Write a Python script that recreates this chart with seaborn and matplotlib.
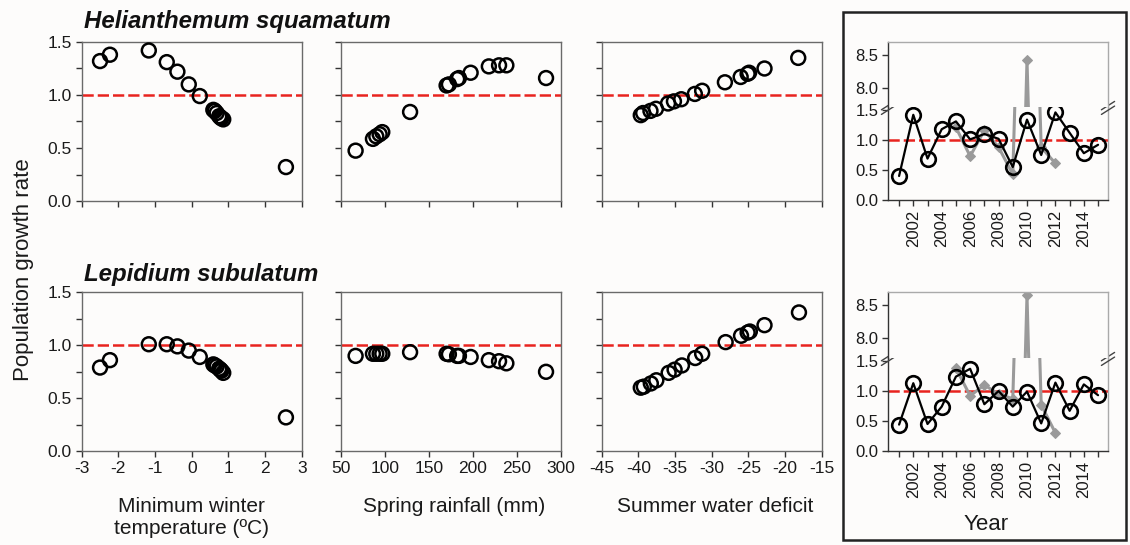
import numpy as np
import pandas as pd
import matplotlib
matplotlib.use("Agg")
import matplotlib.pyplot as plt
import seaborn as sns
from matplotlib.patches import Rectangle

sns.set_style("ticks")
plt.rcParams['font.family'] = ['Liberation Sans', 'DejaVu Sans']

# --- data ---
temp_x = [-2.50, -2.23, -1.17, -0.68, -0.39, -0.08, 0.22, 0.59, 0.63, 0.68, 0.75, 0.78, 0.81, 0.86, 2.57]
temp_hs = [1.32, 1.38, 1.42, 1.31, 1.22, 1.10, 0.99, 0.86, 0.85, 0.83, 0.80, 0.79, 0.78, 0.77, 0.32]
temp_ls = [0.79, 0.86, 1.01, 1.01, 0.99, 0.95, 0.89, 0.82, 0.81, 0.80, 0.78, 0.77, 0.76, 0.74, 0.32]

rain_x = [66.6, 86.3, 90.1, 93.9, 96.9, 128.5, 170.0, 172.6, 182.0, 184.0, 197.3, 218.0, 229.6, 237.9, 283.0]
rain_hs = [0.475, 0.586, 0.61, 0.63, 0.65, 0.84, 1.09, 1.10, 1.15, 1.16, 1.21, 1.27, 1.28, 1.28, 1.16]
rain_ls = [0.90, 0.92, 0.92, 0.92, 0.92, 0.935, 0.92, 0.915, 0.90, 0.90, 0.89, 0.86, 0.85, 0.83, 0.75]

def_x_hs = [-39.67, -39.35, -38.35, -37.6, -35.96, -35.15, -34.15, -32.3, -31.3, -28.2, -26.05, -25.1, -24.9, -22.8, -18.2]
def_hs = [0.81, 0.83, 0.85, 0.87, 0.92, 0.94, 0.96, 1.01, 1.04, 1.12, 1.17, 1.20, 1.21, 1.25, 1.35]
def_x_ls = [-39.67, -39.26, -38.3, -37.55, -35.87, -35.06, -34.06, -32.25, -31.3, -28.1, -26.0, -25.1, -24.8, -22.8, -18.1]
def_ls = [0.60, 0.61, 0.64, 0.67, 0.74, 0.77, 0.81, 0.88, 0.92, 1.03, 1.09, 1.12, 1.13, 1.19, 1.31]

years = list(range(2001, 2016))
obs_hs = [0.40, 1.42, 0.69, 1.18, 1.31, 1.01, 1.10, 1.02, 0.55, 1.34, 0.75, 1.46, 1.12, 0.78, 0.92]
obs_ls = [0.44, 1.13, 0.45, 0.74, 1.24, 1.37, 0.78, 1.00, 0.74, 0.99, 0.46, 1.14, 0.67, 1.11, 0.93]

alt_years = list(range(2005, 2013))
alt_hs = [1.21, 0.73, 1.16, 0.88, 0.43, 8.42, 0.88, 0.61]
alt_ls = [1.38, 0.92, 1.10, 0.95, 0.87, 8.65, 0.77, 0.30]

species = ["Helianthemum squamatum", "Lepidium subulatum"]
xlabels = ["Minimum winter\ntemperature (\u00baC)", "Spring rainfall (mm)", "Summer water deficit"]

bg = "#fdfcfb"
red = "#e8231f"
spine_c = "#6a6a6a"
gray = "#9a9a9a"

fig = plt.figure(figsize=(11.3, 5.45), dpi=100, facecolor=bg)

W = 220 / 1130
H = 159 / 545
lefts = [81.7 / 1130, 341 / 1130, 601.7 / 1130]
bottoms = [1 - 201 / 545, 1 - 451.3 / 545]

panel_data = [
    [(temp_x, temp_hs), (rain_x, rain_hs), (def_x_hs, def_hs)],
    [(temp_x, temp_ls), (rain_x, rain_ls), (def_x_ls, def_ls)],
]
xlims = [(-3, 3), (50, 300), (-45, -15)]
xticks = [np.arange(-3, 4, 1), np.arange(50, 301, 50), np.arange(-45, -14, 5)]


def style_axes(ax, lsize=12.5):
    ax.set_facecolor(bg)
    for s in ax.spines.values():
        s.set_color(spine_c)
        s.set_linewidth(1.0)
    ax.tick_params(direction="out", length=4, width=1, color="#333333",
                   labelsize=lsize, labelcolor="#1a1a1a", pad=3)
    ax.tick_params(which="minor", direction="out", length=4, width=1, color="#333333")


for r in range(2):
    for c in range(3):
        ax = fig.add_axes([lefts[c], bottoms[r], W, H])
        style_axes(ax)
        x, y = panel_data[r][c]
        ax.axhline(1.0, color=red, lw=1.8, dashes=(4.5, 1.6), zorder=1)
        sns.scatterplot(x=x, y=y, ax=ax, s=100, facecolor="none", edgecolor="black",
                        linewidth=1.8, zorder=3, legend=False)
        ax.set_xlim(*xlims[c])
        ax.set_xticks(xticks[c])
        ax.set_ylim(0, 1.5)
        ax.set_yticks([0, 0.5, 1.0, 1.5])
        ax.set_yticks([0.25, 0.75, 1.25], minor=True)
        if c == 0:
            ax.set_yticklabels(["0.0", "0.5", "1.0", "1.5"])
        else:
            ax.set_yticklabels([])
        if r == 0:
            ax.set_xticklabels([])
            ax.tick_params(axis="x", labelbottom=False)
        else:
            ax.set_xticklabels([str(int(v)) for v in xticks[c]])
        ax.set_xlabel("")
        ax.set_ylabel("")
        if c == 0:
            ax.text(0.01, 1.09 if r == 0 else 1.07, species[r], transform=ax.transAxes,
                    fontsize=17.3, fontweight="bold", fontstyle="italic", ha="left",
                    va="baseline", color="#111111")

# x labels for the bottom row
label_x = [191 / 1130, 454 / 1130, 715 / 1130]
for i, lab in enumerate(xlabels):
    fig.text(label_x[i], 1 - 497 / 545, lab, ha="center", va="top", fontsize=15, color="#1a1a1a",
             linespacing=1.2)

fig.text(24 / 1130, 1 - 270 / 545, "Population growth rate", rotation=90, ha="center",
         va="center", fontsize=16, color="#1a1a1a")

# right framed box with time series
fig.patches.append(Rectangle((843 / 1130, 1 - 540 / 545), 283 / 1130, 528 / 545,
                             transform=fig.transFigure, fill=False, edgecolor="#222222",
                             linewidth=1.8, zorder=0))

ins_left = 888 / 1130
ins_w = 220 / 1130
ins_sets = [
    (obs_hs, alt_hs, 200, 107, 42),
    (obs_ls, alt_ls, 451, 358, 292),
]


def draw_series(ax, obs, alt):
    ax.axhline(1.0, color=red, lw=1.8, dashes=(4.5, 1.6), zorder=1)
    sns.lineplot(x=alt_years, y=alt, ax=ax, color=gray, lw=2.2, marker="D", markersize=5,
                 markeredgecolor=gray, markerfacecolor=gray, zorder=2, legend=False)
    sns.lineplot(x=years, y=obs, ax=ax, color="black", lw=1.6, marker="o", markersize=10.5,
                 markerfacecolor="none", markeredgecolor="black", markeredgewidth=1.9,
                 zorder=3, legend=False)
    ax.set_xlim(2000.22, 2015.7)
    ax.set_xlabel("")
    ax.set_ylabel("")


for k, (obs, alt, y0, yb, yt) in enumerate(ins_sets):
    lo = fig.add_axes([ins_left, 1 - y0 / 545, ins_w, (y0 - yb) / 545])
    hi = fig.add_axes([ins_left, 1 - yb / 545, ins_w, (yb - yt) / 545])
    for ax in (lo, hi):
        style_axes(ax, lsize=12)
        draw_series(ax, obs, alt)
    lo.set_ylim(0, 1.55)
    lo.set_yticks([0, 0.5, 1.0, 1.5])
    lo.set_yticklabels(["0.0", "0.5", "1.0", "1.5"])
    hi.set_ylim(7.7, 8.7)
    hi.set_yticks([8.0, 8.5])
    hi.set_yticklabels(["8.0", "8.5"])
    lo.spines["top"].set_visible(False)
    hi.spines["bottom"].set_visible(False)
    hi.tick_params(axis="x", bottom=False, labelbottom=False)
    lo.set_xticks(years)
    lo.set_xticklabels([str(y) if y % 2 == 0 else "" for y in years], rotation=90)
    for s in ("left", "right"):
        lo.spines[s].set_color("#aaaaaa")
        hi.spines[s].set_color("#aaaaaa")
    hi.spines["top"].set_color("#aaaaaa")
    lo.spines["bottom"].set_color("#333333")
    lo.spines["left"].set_color("#333333")
    hi.spines["left"].set_color("#333333")
    # break marks
    d = 0.03
    for xx in (0, 1):
        for dy in (-0.05, 0.0):
            lo.plot([xx - d, xx + d], [1 + dy - 0.03, 1 + dy + 0.06], transform=lo.transAxes,
                    color="#444444", lw=1.0, clip_on=False, zorder=5)

fig.text(986 / 1130, 1 - 525 / 545, "Year", ha="center", va="center", fontsize=16, color="#1a1a1a")

fig.savefig("out.png", dpi=100, facecolor=bg)
